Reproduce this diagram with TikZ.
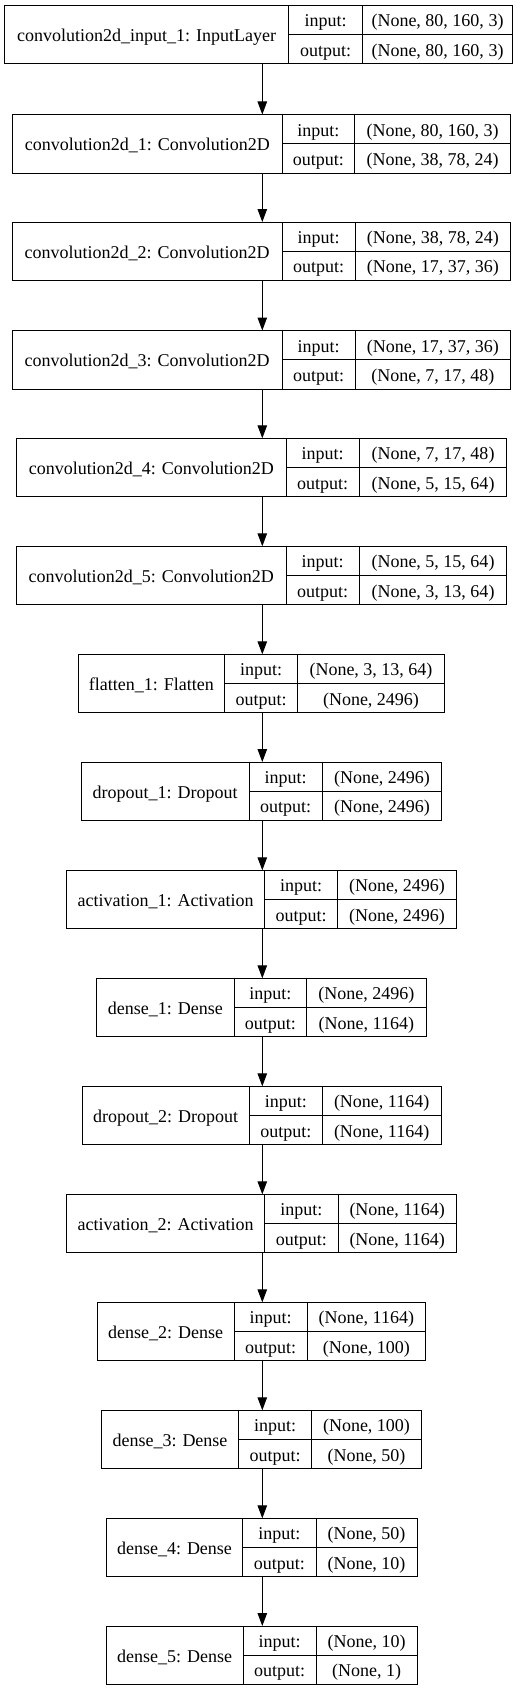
\documentclass[tikz,border=0pt]{standalone}
\usepackage{fontspec}
\setmainfont{Liberation Serif}
\usetikzlibrary{arrows.meta}
% one record: name, top, left, split1, split2, right, layer, input shape, output shape
\newcommand\layerrec[9]{%
  \node[recbox,minimum width={(#6-#3)*1pt},anchor=north west] (#1) at (#3,#2) {};
  \draw[rule] (#4,#2)--(#4,{#2+58.5}) (#5,#2)--(#5,{#2+58.5}) (#4,{#2+29.25})--(#6,{#2+29.25});
  \node[txt] (#1-l) at ({(#3+#4)/2},{#2+29.25}) {#7};
  \node[txt] (#1-i) at ({(#4+#5)/2},{#2+14.6}) {input:};
  \node[txt] (#1-o) at ({(#4+#5)/2},{#2+43.9}) {output:};
  \node[txt] (#1-iv) at ({(#5+#6)/2},{#2+14.6}) {#8};
  \node[txt] (#1-ov) at ({(#5+#6)/2},{#2+43.9}) {#9};
}

\begin{document}
\begin{tikzpicture}[x=1pt,y=-1pt,
  recbox/.style={draw,line width=1pt,inner sep=0,outer sep=0,minimum height=58.5pt},
  rule/.style={line width=1pt},
  txt/.style={font=\fontsize{18}{20}\selectfont,inner sep=0,text height=14pt,text depth=0pt},
  edge/.style={line width=1pt,-{Triangle[length=13pt,width=9.5pt]}}]
  \useasboundingbox (0,0) rectangle (531,1691);
  \layerrec{inp}{5.3}{4.7}{288.7}{362.3}{512.7}{convolution2d\_input\_1: InputLayer}{(None, 80, 160, 3)}{(None, 80, 160, 3)}
  \layerrec{conv1}{114.5}{12.7}{282}{354.5}{510.7}{convolution2d\_1: Convolution2D}{(None, 80, 160, 3)}{(None, 38, 78, 24)}
  \layerrec{conv2}{222}{12.3}{282}{355}{510.7}{convolution2d\_2: Convolution2D}{(None, 38, 78, 24)}{(None, 17, 37, 36)}
  \layerrec{conv3}{330.5}{12.3}{282}{355}{510.7}{convolution2d\_3: Convolution2D}{(None, 17, 37, 36)}{(None, 7, 17, 48)}
  \layerrec{conv4}{438.3}{16.7}{286}{359.3}{506.7}{convolution2d\_4: Convolution2D}{(None, 7, 17, 48)}{(None, 5, 15, 64)}
  \layerrec{conv5}{546.3}{16.5}{286}{359.3}{506.7}{convolution2d\_5: Convolution2D}{(None, 5, 15, 64)}{(None, 3, 13, 64)}
  \layerrec{flat1}{654.3}{78.3}{224.3}{297.7}{444.3}{flatten\_1: Flatten}{(None, 3, 13, 64)}{(None, 2496)}
  \layerrec{drop1}{762}{81.3}{249}{322.3}{441.7}{dropout\_1: Dropout}{(None, 2496)}{(None, 2496)}
  \layerrec{act1}{870.3}{66.7}{264.3}{337.7}{456.3}{activation\_1: Activation}{(None, 2496)}{(None, 2496)}
  \layerrec{dense1}{978.3}{96.7}{234}{306.7}{426}{dense\_1: Dense}{(None, 2496)}{(None, 1164)}
  \layerrec{drop2}{1086.3}{82}{249.3}{322.3}{441}{dropout\_2: Dropout}{(None, 1164)}{(None, 1164)}
  \layerrec{act2}{1194.3}{66.7}{264.7}{338}{456.3}{activation\_2: Activation}{(None, 1164)}{(None, 1164)}
  \layerrec{dense2}{1302.3}{97}{234.3}{307}{425.7}{dense\_2: Dense}{(None, 1164)}{(None, 100)}
  \layerrec{dense3}{1410.3}{101.3}{238.7}{311.3}{421.7}{dense\_3: Dense}{(None, 100)}{(None, 50)}
  \layerrec{dense4}{1518.3}{106.3}{242.7}{316}{417}{dense\_4: Dense}{(None, 50)}{(None, 10)}
  \layerrec{dense5}{1626}{106.3}{243}{316.3}{417}{dense\_5: Dense}{(None, 10)}{(None, 1)}
  % arrows all run down one vertical line
  \coordinate (spine) at (262.3,0);
  \draw[edge] (inp.south -| spine)--(conv1.north -| spine); \draw[edge] (conv1.south -| spine)--(conv2.north -| spine);
  \draw[edge] (conv2.south -| spine)--(conv3.north -| spine); \draw[edge] (conv3.south -| spine)--(conv4.north -| spine);
  \draw[edge] (conv4.south -| spine)--(conv5.north -| spine); \draw[edge] (conv5.south -| spine)--(flat1.north -| spine);
  \draw[edge] (flat1.south -| spine)--(drop1.north -| spine); \draw[edge] (drop1.south -| spine)--(act1.north -| spine);
  \draw[edge] (act1.south -| spine)--(dense1.north -| spine); \draw[edge] (dense1.south -| spine)--(drop2.north -| spine);
  \draw[edge] (drop2.south -| spine)--(act2.north -| spine); \draw[edge] (act2.south -| spine)--(dense2.north -| spine);
  \draw[edge] (dense2.south -| spine)--(dense3.north -| spine); \draw[edge] (dense3.south -| spine)--(dense4.north -| spine);
  \draw[edge] (dense4.south -| spine)--(dense5.north -| spine);
\end{tikzpicture}
\end{document}
